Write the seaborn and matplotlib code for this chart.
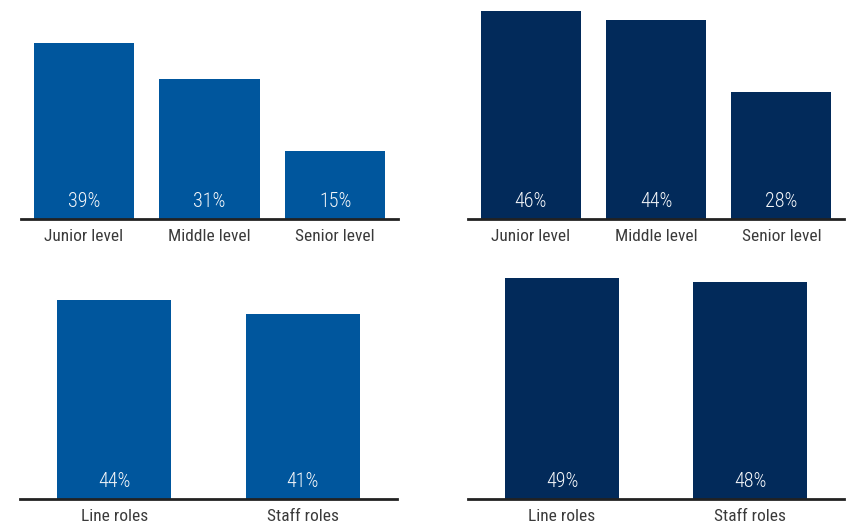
import matplotlib
matplotlib.use("Agg")
import matplotlib.pyplot as plt
import seaborn as sns
import pandas as pd
from matplotlib import font_manager

level_cats = ["Junior level", "Middle level", "Senior level"]
level_vals_a = [39, 31, 15]
level_vals_b = [46, 44, 28]
role_cats = ["Line roles", "Staff roles"]
role_vals_a = [44, 41]
role_vals_b = [49, 48]

blue = "#00569D"
navy = "#022A5A"

sns.set_theme(style="white")
avail = {f.name for f in font_manager.fontManager.ttflist}
cands = ["Roboto Condensed", "Liberation Sans Narrow", "Open Sans Condensed", "Roboto", "DejaVu Sans"]
fams = [c for c in cands if c in avail] or ["DejaVu Sans"]
plt.rcParams["font.family"] = fams
condensed = fams[0] in ("Roboto Condensed", "Liberation Sans Narrow", "Open Sans Condensed")
lab_size = 12.5 if condensed else 11.5
val_size = 14.5 if condensed else 12.5

W, H = 852, 525
fig = plt.figure(figsize=(W / 100, H / 100), dpi=100)

PXPER = 4.52  # pixels per percentage point

def make_ax(x0, x1, base_y, top_y):
    ax = fig.add_axes([x0 / W, 1 - base_y / H, (x1 - x0) / W, (base_y - top_y) / H])
    ax.set_ylim(0, (base_y - top_y) / PXPER)
    return ax

panels = [
    (21, 398, 219, 0, level_cats, level_vals_a, blue, 0.8),
    (468, 844, 219, 0, level_cats, level_vals_b, navy, 0.8),
    (20, 397, 499, 270, role_cats, role_vals_a, blue, 0.605),
    (468, 844, 499, 270, role_cats, role_vals_b, navy, 0.605),
]

for x0, x1, by, ty, cats, vals, col, bw in panels:
    ax = make_ax(x0, x1, by, ty)
    df = pd.DataFrame({"cat": cats, "val": vals})
    sns.barplot(data=df, x="cat", y="val", color=col, width=bw, saturation=1,
                linewidth=0, ax=ax)
    ax.set_xlim(-0.5, len(cats) - 0.5)
    for i, v in enumerate(vals):
        ax.annotate(f"{v}%", xy=(i, 0), xytext=(0, 12.5), textcoords="offset points",
                    ha="center", va="center", color="#f4f6f9", fontsize=val_size,
                    fontweight="light")
    for s in ["top", "right", "left"]:
        ax.spines[s].set_visible(False)
    ax.spines["bottom"].set_color("#222222")
    ax.spines["bottom"].set_linewidth(2)
    ax.set_yticks([])
    ax.set_xlabel("")
    ax.set_ylabel("")
    ax.tick_params(axis="x", length=0, pad=7.5, labelsize=lab_size, labelcolor="#3a3a3a")
    ax.patch.set_alpha(0)

fig.savefig("out.png", dpi=100)
